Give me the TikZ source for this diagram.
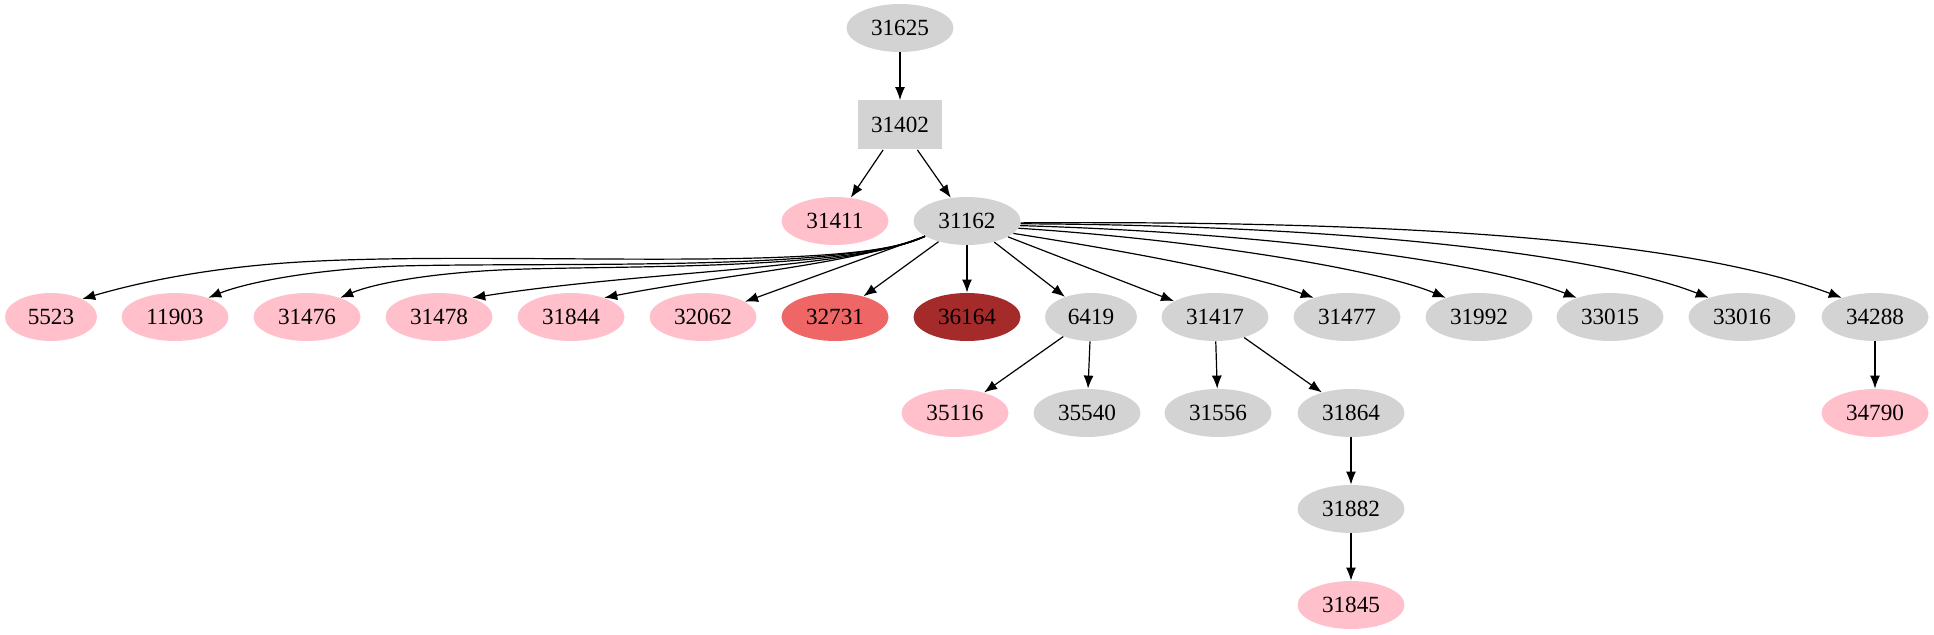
\documentclass[tikz,border=0pt]{standalone}
\usepackage{fontspec}
\setmainfont{Liberation Serif}
\usetikzlibrary{shapes.geometric,arrows.meta}
\definecolor{g}{HTML}{D3D3D3}
\definecolor{pk}{HTML}{FFC0CB}
\definecolor{rd}{HTML}{EE6666}
\definecolor{br}{HTML}{A52A2A}
\begin{document}
\begin{tikzpicture}[x=0.5pt,y=-0.5pt,
  el/.style={ellipse,fill=#1,minimum width=53.5pt,minimum height=24pt,inner sep=0pt,font=\fontsize{11.6}{13}\selectfont},
  el/.default=g,
  ar/.style={-{Latex[length=6.5pt,width=5pt]},line width=0.6pt}]
\useasboundingbox (0,0) rectangle (1934,635);
\node[el] (n31625) at (900,28) {31625};
\node[rectangle,fill=g,minimum width=42pt,minimum height=24.5pt,inner sep=0pt,font=\fontsize{11.6}{13}\selectfont] (n31402) at (900,125) {31402};
\node[el=pk] (n31411) at (835,221) {31411};
\node[el] (n31162) at (967,221) {31162};
\node[el=pk,minimum width=46pt] (n5523) at (51,317) {5523};
\node[el=pk] (n11903) at (175,317) {11903};
\node[el=pk] (n31476) at (307,317) {31476};
\node[el=pk] (n31478) at (439,317) {31478};
\node[el=pk] (n31844) at (571,317) {31844};
\node[el=pk] (n32062) at (703,317) {32062};
\node[el=rd] (n32731) at (835,317) {32731};
\node[el=br] (n36164) at (967,317) {36164};
\node[el,minimum width=46pt] (n6419) at (1091,317) {6419};
\node[el] (n31417) at (1215,317) {31417};
\node[el] (n31477) at (1347,317) {31477};
\node[el] (n31992) at (1479,317) {31992};
\node[el] (n33015) at (1610,317) {33015};
\node[el] (n33016) at (1742,317) {33016};
\node[el] (n34288) at (1875,317) {34288};
\node[el=pk] (n35116) at (955,413) {35116};
\node[el] (n35540) at (1087,413) {35540};
\node[el] (n31556) at (1218,413) {31556};
\node[el] (n31864) at (1351,413) {31864};
\node[el=pk] (n34790) at (1875,413) {34790};
\node[el] (n31882) at (1351,509) {31882};
\node[el=pk] (n31845) at (1351,605) {31845};
\draw[ar] (n31625) -- (n31402);
\draw[ar] (n31402) -- (n31411);
\draw[ar] (n31402) -- (n31162);
\draw[ar] (n31162.200) .. controls (850,275) and (500,250) .. (300,262) .. controls (200,268) and (130,285) .. (n5523.30);
\draw[ar] (n31162.200) .. controls (850,272) and (550,262) .. (400,266) .. controls (300,270) and (240,285) .. (n11903.30);
\draw[ar] (n31162.200) .. controls (850,272) and (600,265) .. (500,270) .. controls (420,274) and (370,285) .. (n31476.30);
\draw[ar] (n31162.200) .. controls (850,270) and (650,270) .. (n31478.30);
\draw[ar] (n31162.200) .. controls (850,265) and (720,275) .. (n31844.30);
\draw[ar] (n31162) -- (n32062);
\draw[ar] (n31162) -- (n32731);
\draw[ar] (n31162) -- (n36164);
\draw[ar] (n31162) -- (n6419);
\draw[ar] (n31162) -- (n31417);
\draw[ar] (n31162.-15) .. controls (1150,255) and (1250,275) .. (n31477.150);
\draw[ar] (n31162.-8) .. controls (1200,240) and (1380,270) .. (n31992.150);
\draw[ar] (n31162.-5) .. controls (1250,232) and (1480,260) .. (n33015.150);
\draw[ar] (n31162.-3) .. controls (1350,225) and (1600,255) .. (n33016.150);
\draw[ar] (n31162.-2) .. controls (1450,220) and (1700,245) .. (n34288.150);
\draw[ar] (n6419) -- (n35116);
\draw[ar] (n6419) -- (n35540);
\draw[ar] (n31417) -- (n31556);
\draw[ar] (n31417) -- (n31864);
\draw[ar] (n31864) -- (n31882);
\draw[ar] (n31882) -- (n31845);
\draw[ar] (n34288) -- (n34790);
\end{tikzpicture}
\end{document}
